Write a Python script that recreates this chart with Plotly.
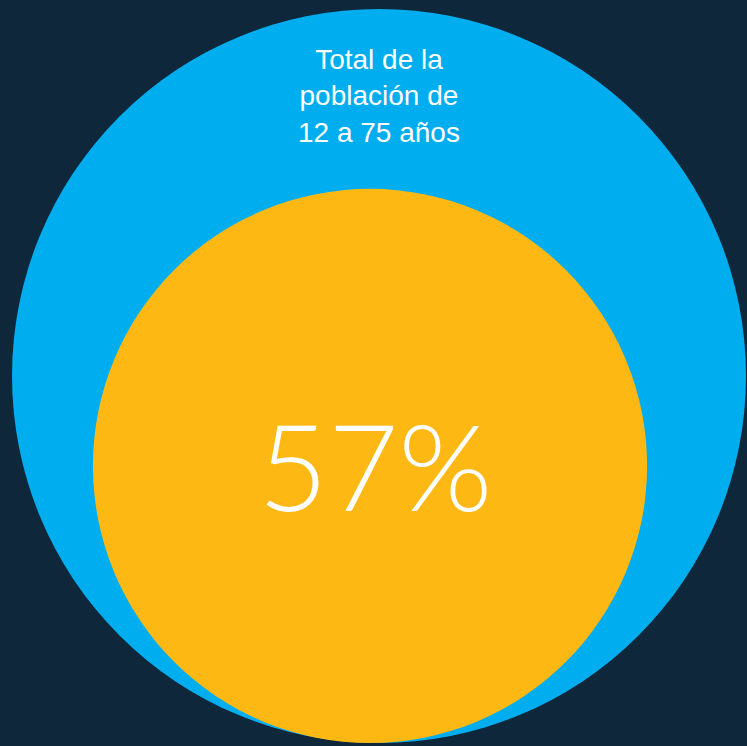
import math
import plotly.graph_objects as go

# Data
labels = ["Total de la<br>población de<br>12 a 75 años", "57%"]
values = [100, 57]  # total population, share

W, H = 747, 746
BG = "#0f273a"
BLUE = "#00aeef"
YELLOW = "#fdb814"

# Layout geometry (pixel coordinates)
cx_outer, cy_outer, r_outer = 379, 376, 367
r_inner = r_outer * math.sqrt(values[1] / values[0])
bottom = cy_outer + r_outer
cx_inner = 370
cy_inner = bottom - r_inner

fig = go.Figure()
fig.add_trace(go.Scatter(x=[cx_outer, cx_inner], y=[cy_outer, cy_inner], mode="markers",
                         marker=dict(opacity=0), hoverinfo="skip", showlegend=False))

fig.add_shape(type="circle", xref="x", yref="y",
              x0=cx_outer - r_outer, x1=cx_outer + r_outer,
              y0=cy_outer - r_outer, y1=cy_outer + r_outer,
              fillcolor=BLUE, line=dict(width=0), layer="below")
fig.add_shape(type="circle", xref="x", yref="y",
              x0=cx_inner - r_inner, x1=cx_inner + r_inner,
              y0=cy_inner - r_inner, y1=cy_inner + r_inner,
              fillcolor=YELLOW, line=dict(width=0), layer="below")

fig.add_annotation(x=cx_outer, y=96, xref="x", yref="y", text=labels[0],
                   showarrow=False, align="center", yanchor="middle",
                   font=dict(family="Liberation Sans, Arial, sans-serif", size=28, color="white"))
fig.add_annotation(x=375, y=464, xref="x", yref="y", text=labels[1],
                   showarrow=False, align="center", yanchor="middle",
                   font=dict(family="Lato, sans-serif", size=121, color="white", weight=300))

fig.update_layout(
    width=W, height=H, margin=dict(l=0, r=0, t=0, b=0),
    paper_bgcolor=BG, plot_bgcolor=BG,
    xaxis=dict(range=[0, W], visible=False, fixedrange=True),
    yaxis=dict(range=[H, 0], visible=False, fixedrange=True),
)

fig.write_html("out.html", config={"displayModeBar": False},
               post_script="document.body.style.margin='0';document.body.style.background='%s';" % BG)
